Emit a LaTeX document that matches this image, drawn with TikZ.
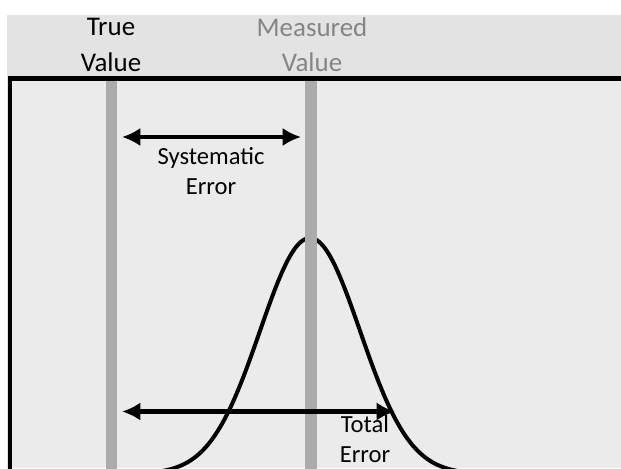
\documentclass[tikz,border=0pt]{standalone}
\usepackage{fontspec}
\setmainfont{Carlito}
\usetikzlibrary{arrows.meta,positioning}

\begin{document}
\begin{tikzpicture}[
  x=0.03cm, y=-0.03cm,
  font=\fontsize{21}{25}\selectfont,
  >={Latex[length=0.55cm,width=0.55cm]},
  headlbl/.style={align=center, font=\fontsize{23}{30}\selectfont},
  errlbl/.style={align=center},
  bar/.style={line width=0.36cm, draw=black!33},
  arr/.style={<->, line width=0.14cm},
  frame/.style={line width=0.13cm, draw=black},
  curve/.style={line width=0.12cm, draw=black}
]
\useasboundingbox (0,0) rectangle (621,468);
\fill[black!11] (7,15) rectangle (621,468);
\fill[black!8] (10,79) rectangle (621,468);
\draw[frame] (10,480) -- (10,78.5) -- (630,78.5);
% labels on top
\node[headlbl] (truelbl) at (111,45) {True\\Value};
\node[headlbl, text=black!48] (measlbl) at (312,45) {Measured\\Value};
% gaussian
\draw[curve] plot[domain=-6.1:6.4, samples=160, smooth] ({310+50*\x}, {474-236*exp(-0.5*\x*\x)});
% the two values
\coordinate (trueTop) at (111,81);
\coordinate (trueBot) at (111,470);
\coordinate (measTop) at (310.5,81);
\coordinate (measBot) at (310.5,470);
\draw[bar, line width=0.33cm] (trueTop) -- (trueBot);
\draw[bar] (measTop) -- (measBot);
% errors
\coordinate (sysL) at (122,137);
\coordinate (sysR) at (301,137);
\coordinate (totL) at (122,411.5);
\coordinate (totR) at (395,411.5);
\draw[arr] (sysL) -- (sysR);
\draw[arr] (totL) -- (totR);
\node[errlbl] (systxt) at (211,171) {Systematic\\Error};
\node[errlbl] (tottxt) at (365,439) {Total\\Error};
\end{tikzpicture}
\end{document}
